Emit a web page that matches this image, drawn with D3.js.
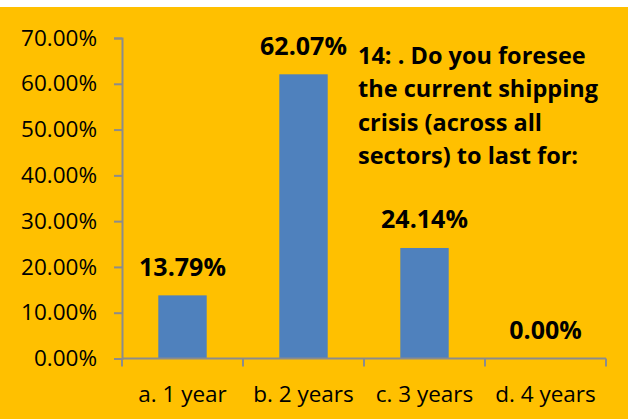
<!DOCTYPE html>
<html>
<head>
<meta charset="utf-8">
<script src="https://cdn.jsdelivr.net/npm/d3@7"></script>
<style>
  html, body { margin: 0; padding: 0; background: #ffffff; }
  svg { display: block; }
</style>
</head>
<body>
<script>
// Survey question 14 – expected duration of the shipping crisis
const categories = ["a. 1 year", "b. 2 years", "c. 3 years", "d. 4 years"];
const shares = [0.1379, 0.6207, 0.2414, 0.0];
const yTicks = [0, 0.1, 0.2, 0.3, 0.4, 0.5, 0.6, 0.7];
const titleLines = ["14: . Do you foresee", "the current shipping", "crisis (across all", "sectors) to last for:"];

const W = 628, H = 419;
const font = "'Open Sans', Lato, sans-serif";
const axisColor = "#8c8c8c";

const svg = d3.select("body").append("svg")
  .attr("width", W).attr("height", H);

// chart area background
svg.append("rect")
  .attr("x", 0).attr("y", 7).attr("width", W).attr("height", H - 7)
  .attr("fill", "#FFC000");

const x = d3.scaleBand().domain(categories).range([122, 606]).paddingInner(0.6).paddingOuter(0.3);
const y = d3.scaleLinear().domain([0, 0.7]).range([358.5, 38]);

// bars
svg.append("g").selectAll("rect").data(shares).join("rect")
  .attr("x", (d, i) => x(categories[i]))
  .attr("width", x.bandwidth())
  .attr("y", d => y(d))
  .attr("height", d => y(0) - y(d))
  .attr("fill", "#4F81BD");

// y axis
const yAxis = svg.append("g")
  .attr("transform", "translate(122,0)")
  .call(d3.axisLeft(y).tickValues(yTicks).tickFormat(d3.format(".2%")).tickSize(8).tickPadding(17));
yAxis.select(".domain").attr("stroke", axisColor).attr("stroke-width", 2);
yAxis.selectAll(".tick line").attr("stroke", axisColor).attr("stroke-width", 2);
yAxis.selectAll(".tick text")
  .attr("font-family", font).attr("font-size", 22.5).attr("fill", "#000");

// x axis with boundary ticks between categories
const xb = d3.scaleLinear().domain([0, categories.length]).range([122, 606]);
const xAxisG = svg.append("g").attr("transform", `translate(0,${y(0)})`);
xAxisG.append("line")
  .attr("x1", 122).attr("x2", 606).attr("y1", 0).attr("y2", 0)
  .attr("stroke", axisColor).attr("stroke-width", 2);
xAxisG.selectAll("line.tk").data(d3.range(categories.length + 1)).join("line")
  .attr("class", "tk")
  .attr("x1", d => xb(d)).attr("x2", d => xb(d))
  .attr("y1", 0).attr("y2", 8)
  .attr("stroke", axisColor).attr("stroke-width", 2);
xAxisG.selectAll("text").data(categories).join("text")
  .attr("x", d => x(d) + x.bandwidth() / 2)
  .attr("y", 43)
  .attr("text-anchor", "middle")
  .attr("font-family", font).attr("font-size", 22.5).attr("fill", "#000")
  .text(d => d);

// value labels
svg.append("g").selectAll("text").data(shares).join("text")
  .attr("x", (d, i) => x(categories[i]) + x.bandwidth() / 2)
  .attr("y", d => y(d) - 19.5)
  .attr("text-anchor", "middle")
  .attr("font-family", font).attr("font-weight", "bold").attr("font-size", 25).attr("fill", "#000")
  .text(d => d3.format(".2%")(d));

// question text
svg.append("text")
  .attr("font-family", font).attr("font-weight", "bold").attr("font-size", 23.5).attr("fill", "#000")
  .selectAll("tspan").data(titleLines).join("tspan")
  .attr("x", 358)
  .attr("y", (d, i) => 63.5 + i * 33.5)
  .text(d => d);
</script>
</body>
</html>
